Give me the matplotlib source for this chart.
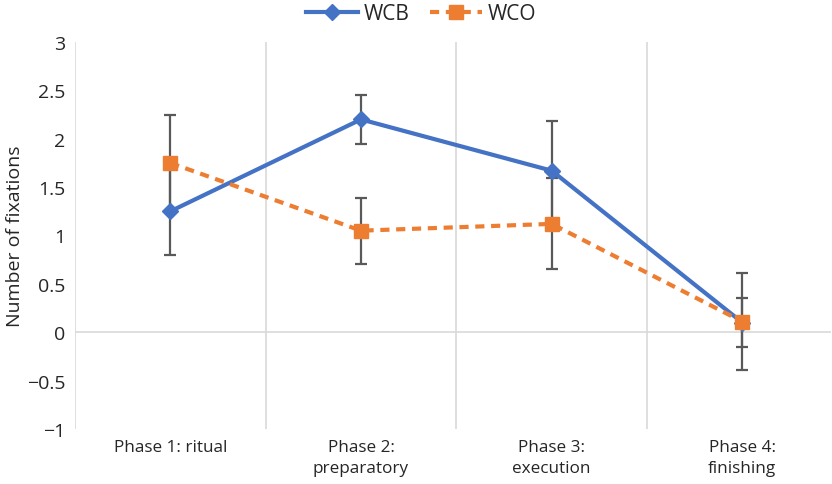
import matplotlib
matplotlib.use("Agg")
import matplotlib.pyplot as plt
from matplotlib.lines import Line2D

categories = ["Phase 1: ritual", "Phase 2:\npreparatory", "Phase 3:\nexecution", "Phase 4:\nfinishing"]
wcb = [1.25, 2.20, 1.67, 0.10]
wcb_err = [0.45, 0.25, 0.51, 0.25]
wco = [1.75, 1.05, 1.12, 0.11]
wco_err = [0.50, 0.34, 0.47, 0.50]
yticks = [-1, -0.5, 0, 0.5, 1, 1.5, 2, 2.5, 3]

plt.rcParams['font.family'] = ['Open Sans', 'DejaVu Sans']

blue = "#4472C4"
orange = "#ED7D31"
grid = "#D9D9D9"
txt = "#262626"

fig = plt.figure(figsize=(8.32, 4.85), dpi=100)
ax = fig.add_axes([75/832, 1-430/485, (831-75)/832, (430-43)/485])

x = list(range(len(categories)))
ax.set_xlim(-0.5, 3.465)
ax.set_ylim(-1, 3)

for s in ax.spines.values():
    s.set_visible(False)
ax.axvline(-0.5, color=grid, lw=1.2, zorder=0)
for b in [0.5, 1.5, 2.5]:
    ax.axvline(b, color=grid, lw=1.2, zorder=0)
ax.axhline(0, color=grid, lw=1.2, zorder=0)

ax.errorbar(x, wcb, yerr=wcb_err, fmt='none', ecolor="#595959", elinewidth=1.6, capsize=4.5, capthick=1.6, zorder=2)
ax.errorbar(x, wco, yerr=wco_err, fmt='none', ecolor="#595959", elinewidth=1.6, capsize=4.5, capthick=1.6, zorder=2)

ax.plot(x, wcb, color=blue, lw=3, marker='D', ms=8, zorder=3)
ax.plot(x, wco, color=orange, lw=3, ls=(0, (2.2, 1.6)), marker='s', ms=10, zorder=4)

ax.set_xticks(x)
ax.set_xticklabels(categories, fontsize=12.3, color=txt, linespacing=1.45, va='top')
ax.set_yticks(yticks)
ax.set_yticklabels([("\u2212" if v < 0 else "") + ("%g" % abs(v)) for v in yticks], fontsize=14, color=txt)
ax.tick_params(axis='both', length=0)
ax.tick_params(axis='x', pad=7)
ax.tick_params(axis='y', pad=7)
ax.set_ylabel("Number of fixations", fontsize=14, color=txt, labelpad=2)

handles = [Line2D([], [], color=blue, lw=3, marker='D', ms=8),
           Line2D([], [], color=orange, lw=3, ls=(0, (2.2, 1.6)), marker='s', ms=10)]
fig.legend(handles, ["WCB", "WCO"], loc='center', bbox_to_anchor=(421/832, 1-15/485), ncol=2,
           frameon=False, fontsize=15, handlelength=2.5, columnspacing=1.0, handletextpad=0.25,
           labelcolor=txt)

fig.savefig("out.png", dpi=100)
